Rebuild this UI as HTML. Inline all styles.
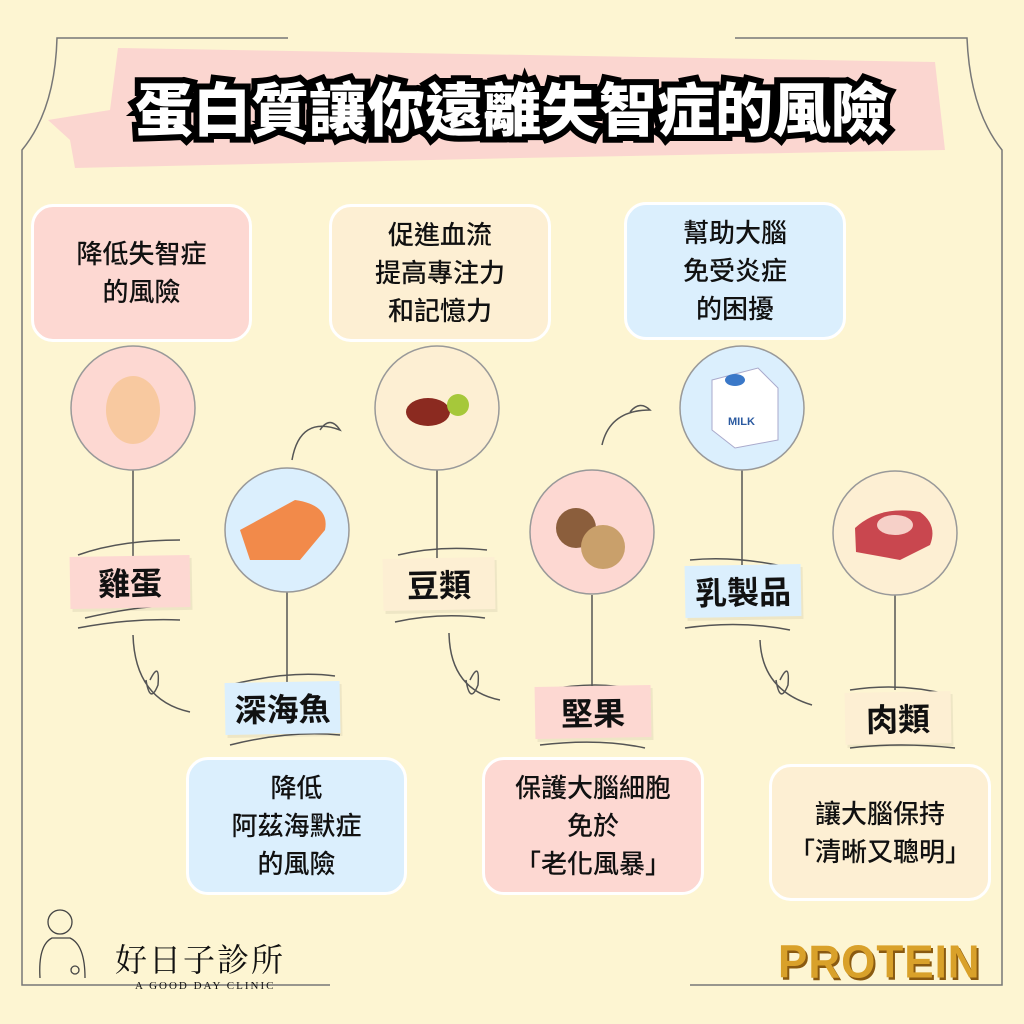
<!DOCTYPE html>
<html><head><meta charset="utf-8"><style>
*{margin:0;padding:0;box-sizing:border-box}
body{width:1024px;height:1024px;background:#fdf5d2;position:relative;overflow:hidden;font-family:"Liberation Sans","Noto Sans CJK TC",sans-serif;color:#111}
.abs{position:absolute}
.box{position:absolute;border:3px solid #fff;border-radius:22px;display:flex;align-items:center;justify-content:center;text-align:center;font-size:26px;line-height:38px;font-weight:500}
.pink{background:#fdd8d2}.blue{background:#dbeffd}.cream{background:#fdefd3}
.tag{position:absolute;height:52px;display:flex;align-items:center;justify-content:center;font-size:32px;font-weight:700;transform:rotate(-1deg);box-shadow:2px 3px 0 rgba(0,0,0,0.06)}
.title{position:absolute;left:0;width:1024px;top:64px;text-align:center;font-size:58px;font-weight:900;color:#fff;-webkit-text-stroke:12px #000;paint-order:stroke fill;letter-spacing:0px}
</style></head><body>
<svg class="abs" style="left:0;top:0" width="1024" height="1024">
 <g fill="none" stroke="#777" stroke-width="1.5">
  <path d="M288 38 H57 Q55 110 22 150 V985 H330"/>
  <path d="M735 38 H967 Q970 110 1002 150 V985 H690"/>
 </g>
 <path d="M118 48 L935 62 L945 150 L520 158 L75 168 L70 140 L48 120 L110 110 Z" fill="#fbd6d0"/>
 <g stroke="#555" stroke-width="1.5" fill="none">
  <line x1="133" y1="470" x2="133" y2="556"/>
  <line x1="287" y1="592" x2="287" y2="685"/>
  <line x1="437" y1="470" x2="437" y2="560"/>
  <line x1="592" y1="595" x2="592" y2="686"/>
  <line x1="742" y1="470" x2="742" y2="566"/>
  <line x1="895" y1="595" x2="895" y2="690"/>
  <path d="M133 635 Q135 700 190 712 M150 680 q10 -20 8 5 q-8 20 -12 -5"/>
  <path d="M449 633 Q450 690 500 700 M470 680 q10 -20 8 5 q-8 20 -12 -5"/>
  <path d="M760 640 Q762 690 812 705 M780 680 q10 -20 8 5 q-8 20 -12 -5"/>
  <path d="M292 460 Q300 415 340 430 Q330 415 320 430"/>
  <path d="M602 445 Q610 410 650 410 Q640 400 630 412"/>
  <path d="M78 555 Q120 540 180 540 M85 618 Q140 605 185 605 M78 628 Q130 618 180 620"/>
  <path d="M230 685 Q290 670 335 676 M230 745 Q290 730 340 735"/>
  <path d="M398 555 Q440 545 487 550 M395 622 Q440 612 485 618"/>
  <path d="M545 690 Q600 680 635 690 M540 745 Q600 738 645 748"/>
  <path d="M690 560 Q740 555 800 570 M685 628 Q740 620 790 630"/>
  <path d="M850 690 Q900 682 950 695 M850 748 Q900 742 955 748"/>
 </g>
 <g stroke="#999" stroke-width="1.5">
  <circle cx="133" cy="408" r="62" fill="#fdd8d2"/>
  <circle cx="287" cy="530" r="62" fill="#dbeffd"/>
  <circle cx="437" cy="408" r="62" fill="#fdefd3"/>
  <circle cx="592" cy="532" r="62" fill="#fdd8d2"/>
  <circle cx="742" cy="408" r="62" fill="#dbeffd"/>
  <circle cx="895" cy="533" r="62" fill="#fdefd3"/>
 </g>
 <ellipse cx="133" cy="410" rx="27" ry="34" fill="#f8c9a0"/>
 <path d="M240 530 L295 500 Q330 505 325 530 L300 560 L250 560 Z" fill="#f28a4a"/>
 <ellipse cx="428" cy="412" rx="22" ry="14" fill="#8b2a20"/><circle cx="458" cy="405" r="11" fill="#a6c83a"/>
 <circle cx="576" cy="528" r="20" fill="#8b5e3c"/><circle cx="603" cy="547" r="22" fill="#c9a06b"/>
 <path d="M712 380 L758 368 L778 388 L778 440 L735 448 L712 430 Z" fill="#fff" stroke="#aac" stroke-width="1"/>
 <ellipse cx="735" cy="380" rx="10" ry="6" fill="#3a78c8"/>
 <text x="728" y="425" font-size="11" font-weight="bold" fill="#2b5aa0" font-family="Liberation Sans">MILK</text>
 <path d="M855 528 Q880 505 920 512 Q938 525 930 545 L900 560 L856 552 Z" fill="#c9474f"/>
 <ellipse cx="895" cy="525" rx="18" ry="10" fill="#f6d0c8"/>
</svg>
<div class="title">蛋白質讓你遠離失智症的風險</div>
<div class="box pink" style="left:31px;top:204px;width:221px;height:138px">降低失智症<br>的風險</div>
<div class="box cream" style="left:329px;top:204px;width:222px;height:138px">促進血流<br>提高專注力<br>和記憶力</div>
<div class="box blue" style="left:624px;top:202px;width:222px;height:138px">幫助大腦<br>免受炎症<br>的困擾</div>
<div class="box blue" style="left:186px;top:757px;width:221px;height:138px">降低<br>阿茲海默症<br>的風險</div>
<div class="box pink" style="left:482px;top:757px;width:222px;height:138px">保護大腦細胞<br>免於<br>「老化風暴」</div>
<div class="box cream" style="left:769px;top:764px;width:222px;height:137px">讓大腦保持<br>「清晰又聰明」</div>
<div class="tag pink" style="left:70px;top:556px;width:120px">雞蛋</div>
<div class="tag blue" style="left:225px;top:682px;width:115px">深海魚</div>
<div class="tag cream" style="left:383px;top:558px;width:112px">豆類</div>
<div class="tag pink" style="left:535px;top:686px;width:116px">堅果</div>
<div class="tag blue" style="left:685px;top:565px;width:116px">乳製品</div>
<div class="tag cream" style="left:845px;top:692px;width:106px">肉類</div>
<svg class="abs" style="left:30px;top:900px" width="80" height="80"><g fill="none" stroke="#444" stroke-width="1.3"><circle cx="30" cy="22" r="12"/><path d="M10 78 Q8 45 22 38 L40 38 Q55 45 55 78"/><circle cx="45" cy="70" r="4"/></g></svg>
<div class="abs" style="left:115px;top:935px;font-size:32px;letter-spacing:2px;font-family:'Noto Serif CJK SC',serif">好日子診所</div>
<div class="abs" style="left:135px;top:980px;font-size:11px;letter-spacing:2px;font-family:'Liberation Serif',serif">A GOOD DAY CLINIC</div>
<div class="abs" style="left:778px;top:938px;font-size:44px;font-weight:900;color:#d9a12a;letter-spacing:1px;font-family:'Liberation Sans',sans-serif;transform:scaleY(1.05);text-shadow:2px 2px 0 #8a5a10">PROTEIN</div>
</body></html>
